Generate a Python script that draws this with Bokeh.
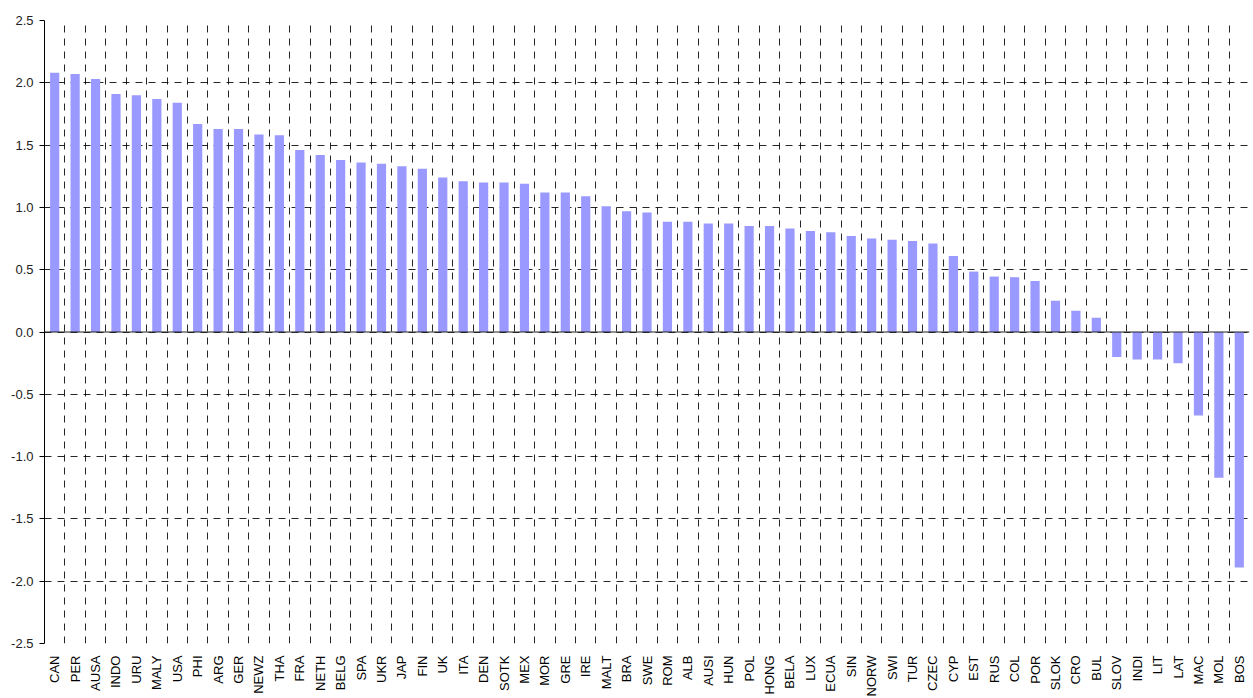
from bokeh.plotting import figure
from bokeh.models import FixedTicker, Range1d, Span, NumeralTickFormatter
from bokeh.embed import file_html
from bokeh.resources import INLINE
import math

countries = ["CAN", "PER", "AUSA", "INDO", "URU", "MALY", "USA", "PHI", "ARG", "GER",
             "NEWZ", "THA", "FRA", "NETH", "BELG", "SPA", "UKR", "JAP", "FIN", "UK",
             "ITA", "DEN", "SOTK", "MEX", "MOR", "GRE", "IRE", "MALT", "BRA", "SWE",
             "ROM", "ALB", "AUSI", "HUN", "POL", "HONG", "BELA", "LUX", "ECUA", "SIN",
             "NORW", "SWI", "TUR", "CZEC", "CYP", "EST", "RUS", "COL", "POR", "SLOK",
             "CRO", "BUL", "SLOV", "INDI", "LIT", "LAT", "MAC", "MOL", "BOS"]

values = [2.08, 2.07, 2.03, 1.91, 1.90, 1.87, 1.84, 1.67, 1.63, 1.63,
          1.585, 1.58, 1.46, 1.42, 1.38, 1.36, 1.35, 1.33, 1.31, 1.24,
          1.21, 1.20, 1.20, 1.19, 1.12, 1.12, 1.09, 1.01, 0.97, 0.96,
          0.885, 0.885, 0.87, 0.87, 0.85, 0.85, 0.83, 0.81, 0.80, 0.77,
          0.75, 0.74, 0.73, 0.71, 0.61, 0.485, 0.445, 0.44, 0.41, 0.25,
          0.17, 0.115, -0.20, -0.22, -0.22, -0.25, -0.67, -1.17, -1.89]

y_ticks = [-2.5, -2.0, -1.5, -1.0, -0.5, 0.0, 0.5, 1.0, 1.5, 2.0, 2.5]

n = len(countries)
centers = [i + 0.5 for i in range(n)]
bounds = [i for i in range(1, n + 1)]

p = figure(output_backend="svg", toolbar_location=None,
           frame_width=1205, frame_height=623,
           x_range=Range1d(0, n), y_range=Range1d(-2.5, 2.5),
           min_border_left=44, min_border_top=20, min_border_right=3, min_border_bottom=40)
p.outline_line_color = None
p.background_fill_color = "white"

p.vbar(x=centers, top=values, bottom=0, width=0.45, fill_color="#9999FF", line_color=None)

# grids
p.xgrid.ticker = FixedTicker(ticks=bounds)
p.ygrid.ticker = FixedTicker(ticks=y_ticks)
for g in (p.xgrid, p.ygrid):
    g.grid_line_color = "black"
    g.grid_line_dash = "7 6"
    g.grid_line_width = 1
    g.grid_line_alpha = 0.85

# zero line
p.add_layout(Span(location=0, dimension="width", line_color="#222222", line_width=1.2))

# x axis
xa = p.xaxis[0]
xa.ticker = FixedTicker(ticks=centers)
xa.major_label_overrides = {c: name for c, name in zip(centers, countries)}
xa.major_label_orientation = math.pi / 2
xa.axis_line_color = None
xa.major_tick_line_color = None
xa.minor_tick_line_color = None
xa.major_label_text_font = "Liberation Sans"
xa.major_label_text_font_size = "13px"
xa.major_label_text_color = "black"
xa.major_label_standoff = 6

# y axis
ya = p.yaxis[0]
ya.ticker = FixedTicker(ticks=y_ticks)
ya.formatter = NumeralTickFormatter(format="0.0")
ya.axis_line_color = "black"
ya.major_tick_line_color = "black"
ya.major_tick_out = 5
ya.major_tick_in = 0
ya.minor_tick_line_color = None
ya.major_label_text_font = "Liberation Sans"
ya.major_label_text_font_size = "13px"
ya.major_label_text_color = "#222222"
ya.major_label_standoff = 6

open("out.html", "w").write(file_html(p, INLINE))
